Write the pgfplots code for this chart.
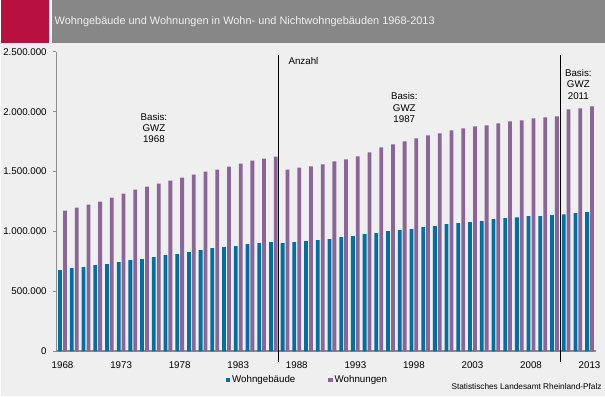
\documentclass[border=0pt]{standalone}
\usepackage{pgfplots}
\usepackage{pgfplotstable}
\pgfplotsset{compat=1.18}
\usepackage{fontspec}
\setmainfont{Liberation Sans}
\definecolor{bg}{HTML}{EEEFEE}
\definecolor{bandgray}{HTML}{878787}
\definecolor{crimson}{HTML}{B8103F}
\definecolor{cblue}{HTML}{0070A0}
\definecolor{cpurple}{HTML}{8B6597}
\definecolor{axgray}{HTML}{8C8C8C}
\pgfplotstableread{
idx year geb whg
0 1968 678000 1175000
1 1969 694000 1200000
2 1970 703000 1225000
3 1971 719000 1250000
4 1972 728000 1283000
5 1973 744000 1317000
6 1974 761000 1350000
7 1975 769000 1375000
8 1976 786000 1400000
9 1977 803000 1425000
10 1978 811000 1450000
11 1979 828000 1475000
12 1980 844000 1500000
13 1981 861000 1517000
14 1982 869000 1542000
15 1983 878000 1567000
16 1984 894000 1592000
17 1985 903000 1608000
18 1986 911000 1625000
19 1987 903000 1517000
20 1988 911000 1533000
21 1989 919000 1544000
22 1990 928000 1561000
23 1991 936000 1586000
24 1992 953000 1603000
25 1993 961000 1628000
26 1994 978000 1661000
27 1995 986000 1703000
28 1996 1003000 1728000
29 1997 1011000 1753000
30 1998 1019000 1778000
31 1999 1036000 1803000
32 2000 1044000 1819000
33 2001 1061000 1844000
34 2002 1069000 1861000
35 2003 1078000 1878000
36 2004 1086000 1886000
37 2005 1103000 1903000
38 2006 1111000 1919000
39 2007 1119000 1928000
40 2008 1128000 1944000
41 2009 1128000 1953000
42 2010 1136000 1961000
43 2011 1144000 2019000
44 2012 1153000 2028000
45 2013 1161000 2044000
}\datatable
\begin{document}
\begin{tikzpicture}
% background and title band
\fill[bg] (-55bp,-45bp) rectangle (550bp,352bp);
\fill[bandgray] (-55bp,309.3bp) rectangle (550bp,352bp);
\fill[crimson] (-55bp,309.3bp) rectangle (-6.7bp,352bp);
\fill[white] (-6.7bp,309.3bp) rectangle (-4.3bp,352bp);
\node[anchor=west, inner sep=0, text=white!94!black, font=\fontsize{11}{13}\selectfont] at (-1.7bp,330.7bp) {Wohngebäude und Wohnungen in Wohn- und Nichtwohngebäuden 1968-2013};
\begin{axis}[
  scale only axis,
  width=541bp, height=300bp,
  xmin=-0.545, xmax=45.55,
  ymin=0, ymax=2500000,
  scaled y ticks=false,
  axis x line=bottom, axis y line=left,
  axis line style={-},
  x axis line style={draw=axgray, line width=2.3bp},
  y axis line style={draw=axgray, line width=0.9bp},
  xtick={0,5,...,45},
  xticklabels={1968,1973,1978,1983,1988,1993,1998,2003,2008,2013},
  xtick style={draw=none},
  ytick={0,500000,1000000,1500000,2000000,2500000},
  yticklabels={0,500.000,1.000.000,1.500.000,2.000.000,2.500.000},
  ytick style={draw=axgray, line width=0.8bp},
  tick align=outside,
  major tick length=3bp,
  ticklabel style={font=\fontsize{9.8}{11}\selectfont, text=black},
  xticklabel style={yshift=-4bp},
  yticklabel style={xshift=-3bp},
  clip=false,
  legend columns=2,
  legend style={draw=none, fill=none, inner sep=0pt, outer sep=0pt,
    at={(axis description cs:0.3142,-0.0957)}, anchor=west,
    font=\fontsize{9.8}{11}\selectfont,
    /tikz/every even column/.append style={column sep=31bp}},
  legend image code/.code={\fill[#1] (0bp,-2.1bp) rectangle (4.4bp,2.1bp);},
]
\addplot[ybar, bar width=3.8bp, bar shift=-2.45bp, fill=cblue, draw=none] table[x=idx, y=geb] {\datatable};
\addlegendentry{Wohngebäude}
\addplot[ybar, bar width=3.8bp, bar shift=2.45bp, fill=cpurple, draw=none] table[x=idx, y=whg] {\datatable};
\addlegendentry{Wohnungen}
\addplot[forget plot, black, line width=1.1bp, no marks] coordinates {(18.45,-89000) (18.45,2471000)};
\addplot[forget plot, black, line width=1.1bp, no marks] coordinates {(42.5,-89000) (42.5,2475000)};
\node[align=center, font=\fontsize{9.8}{11.5}\selectfont, inner sep=0] at (axis cs:7.8,1864000) {Basis:\\GWZ\\1968};
\node[align=center, font=\fontsize{9.8}{11.5}\selectfont, inner sep=0] at (axis cs:29.18,2033000) {Basis:\\GWZ\\1987};
\node[align=center, font=\fontsize{9.8}{11.5}\selectfont, inner sep=0] at (axis cs:44.04,2231000) {Basis:\\GWZ\\2011};
\node[anchor=west, font=\fontsize{9.8}{11.5}\selectfont, inner sep=0] at (axis cs:19.28,2427500) {Anzahl};
\end{axis}
\node[anchor=east, inner sep=0, font=\fontsize{8.3}{9}\selectfont] at (546.7bp,-35.3bp) {Statistisches Landesamt Rheinland-Pfalz};
\end{tikzpicture}
\end{document}
